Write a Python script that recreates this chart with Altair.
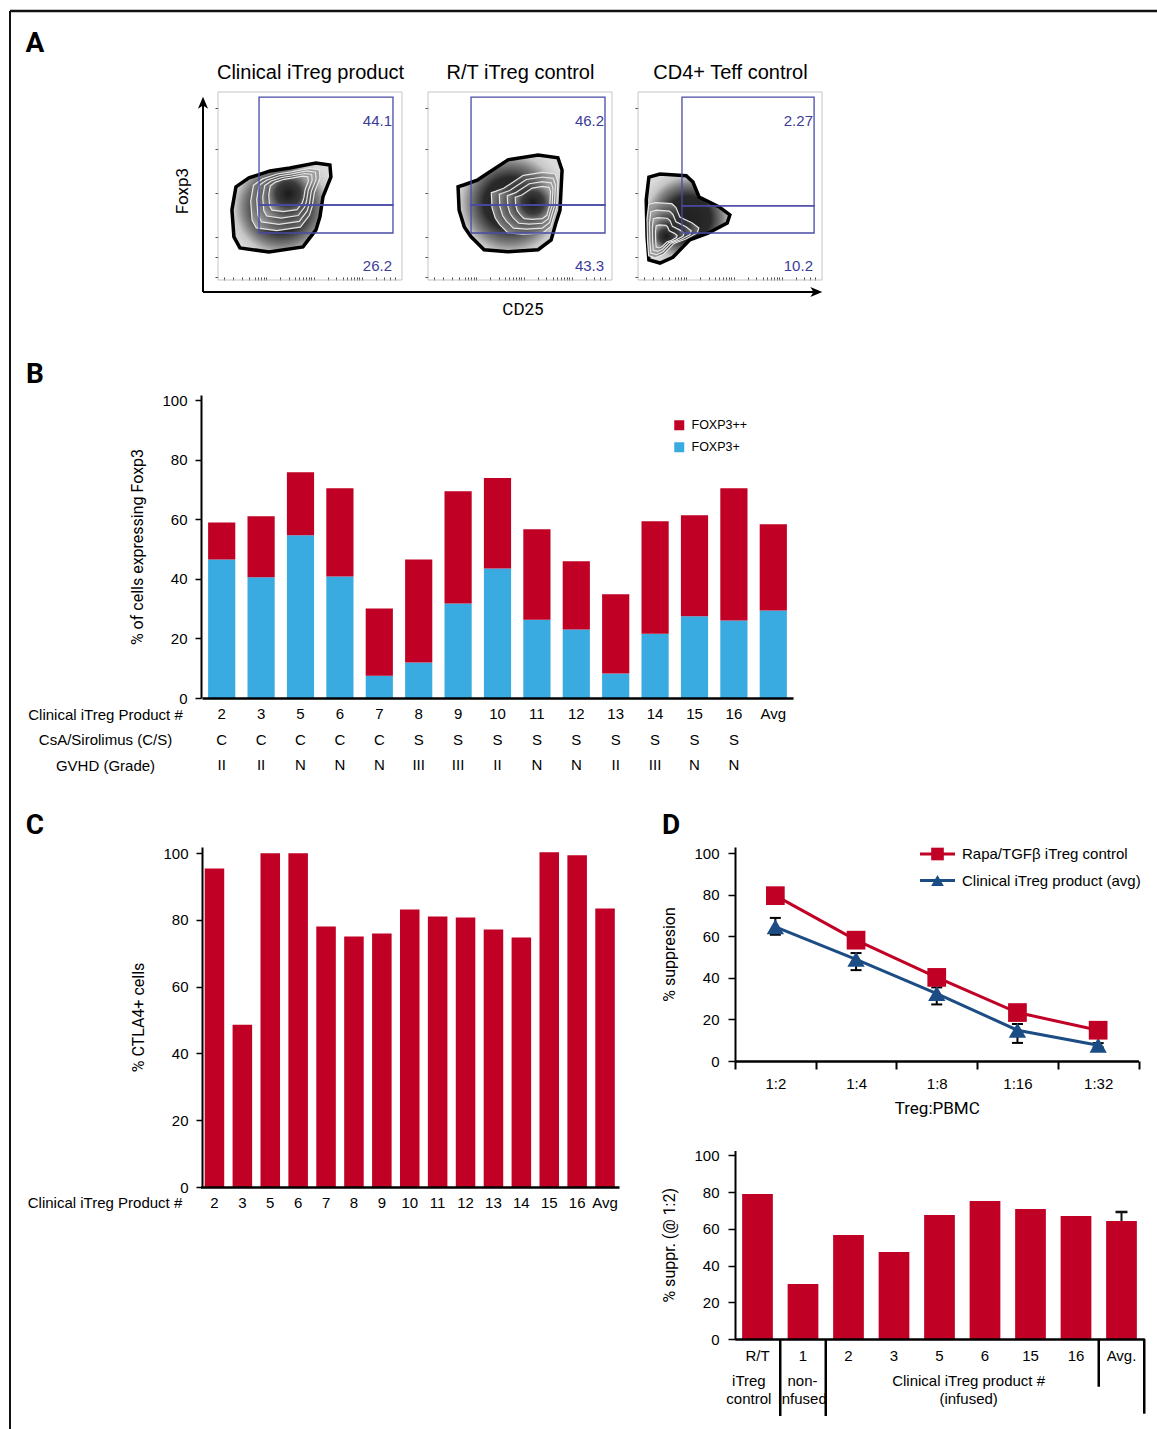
import altair as alt
import pandas as pd

W, H = 1157, 1429

# ---------------- Panel A : flow cytometry (frame units 0-100) ----------------
flow_titles = ["Clinical iTreg product", "R/T iTreg control", "CD4+ Teff control"]
flow_upper_pct = ["44.1", "46.2", "2.27"]
flow_lower_pct = ["26.2", "43.3", "10.2"]
gate_x = [[22.3, 95.1], [23.4, 96.2], [23.9, 95.7]]
gate_y_upper = [[39.9, 97.3], [39.9, 97.3], [39.4, 97.3]]
gate_y_lower = [[25.0, 39.9], [25.0, 39.9], [25.0, 39.4]]
pct_label_x = [94.6, 95.7, 95.1]
pct_label_y = [84.6, 7.4]
ring_cx = [[34.2, 36.4, 37.0, 37.6, 38.2],
           [44.6, 52.5, 54.0, 55.5, 57.0],
           [27.2, 19.0, 17.6, 16.4, 15.4]]
ring_cy = [[38.6, 42.8, 43.8, 44.8, 45.8],
           [40.7, 40.8, 40.9, 41.0, 41.0],
           [32.7, 26.5, 25.3, 24.2, 23.2]]
ring_scale = [[1.0, 0.70, 0.60, 0.50, 0.40],
              [1.0, 0.64, 0.54, 0.44, 0.34],
              [1.0, 0.62, 0.50, 0.38, 0.26]]
left_ticks = [1.8, 12.4, 23.0, 46.1, 69.5, 91.3]
bottom_ticks = [3, 8, 13, 17, 20, 22, 23.5, 24.8, 26, 33.8, 38.4, 41.7, 44.2, 46.2, 48, 49.5, 50.8,
                52, 59.8, 64.4, 67.7, 70.2, 72.2, 74, 75.5, 76.8, 78, 85.8, 90.4, 93.7, 96.2]

# ---------------- Panel B ----------------
products = ["2", "3", "5", "6", "7", "8", "9", "10", "11", "12", "13", "14", "15", "16", "Avg"]
foxp3_plus = [46.5, 40.5, 54.6, 40.8, 7.5, 11.9, 31.7, 43.5, 26.3, 23.0, 8.2, 21.6, 27.4, 26.0, 29.4]
foxp3_total = [58.9, 61.0, 75.8, 70.4, 30.0, 46.5, 69.4, 73.8, 56.6, 45.9, 34.8, 59.3, 61.3, 70.4, 58.3]
drug = ["C", "C", "C", "C", "C", "S", "S", "S", "S", "S", "S", "S", "S", "S", ""]
gvhd = ["II", "II", "N", "N", "N", "III", "III", "II", "N", "N", "II", "III", "N", "N", ""]
row_titles = ["Clinical iTreg Product #", "CsA/Sirolimus (C/S)", "GVHD (Grade)"]
series_b = ["FOXP3++", "FOXP3+"]

# ---------------- Panel C ----------------
ctla4 = [95.4, 48.6, 99.9, 99.9, 78.0, 75.0, 75.9, 83.1, 81.0, 80.7, 77.1, 74.7, 100.2, 99.3, 83.4]

# ---------------- Panel D (top) ----------------
ratios = ["1:2", "1:4", "1:8", "1:16", "1:32"]
rapa = [79.5, 58.1, 40.2, 23.3, 14.8]
clinical = [64.5, 48.9, 32.4, 14.8, 7.6]
clinical_err_lo = [3.8, 5.2, 5.2, 6.1, 1.0]
clinical_err_hi = [4.3, 3.0, 3.0, 3.0, 1.0]
legend_labels = ["Rapa/TGF\u03b2 iTreg control", "Clinical iTreg product (avg)"]

# ---------------- Panel D (bottom) ----------------
sup_cats = ["R/T", "1", "2", "3", "5", "6", "15", "16", "Avg."]
sup_vals = [79.0, 30.0, 56.7, 47.4, 67.6, 75.2, 70.8, 67.0, 64.3]
sup_avg_err = 4.9
sub_row1 = ["R/T", "1", "2", "3", "5", "6", "15", "16", "Avg."]
sub_row1_pos = [0.5, 1.5, 2.5, 3.5, 4.5, 5.5, 6.5, 7.5, 8.5]
sub_row2 = ["iTreg", "non-", "Clinical iTreg product #"]
sub_row3 = ["control", "infused", "(infused)"]
sub_row23_pos = [0.31, 1.49, 5.14]
sub_row_y = [0.221, 0.54, 0.78]
sep_pos = [1, 2, 8, 9]
sep_len = [1.0, 1.0, 0.62, 0.97]

# ---------------- styles ----------------
RED = "#c00025"
BLUE = "#39abe1"
NAVY = "#1b4c84"
GATE = "#4a4aa8"
NUM = "#3b3b98"
SANS = "Liberation Sans, Arial, Helvetica, sans-serif"
NARROW = "Roboto, Liberation Sans, sans-serif"

BLOB_PATHS = [
    "M-0.90,-0.41L-0.64,-0.59L-0.22,-0.73L0.18,-0.79L0.70,-0.89L0.98,-0.85L1.00,-0.61L0.84,-0.21"
    "L0.78,0.19L0.70,0.45L0.44,0.79L-0.24,0.89L-0.82,0.81L-0.94,0.59L-0.98,0.05Z",
    "M-0.54,-0.51L-0.04,-0.84L0.54,-0.93L0.92,-0.88L1.00,-0.64L0.96,0.13L0.88,0.38L0.79,0.70"
    "L0.54,0.89L-0.04,0.93L-0.50,0.89L-0.63,0.76L-0.75,0.64L-0.88,0.45L-0.98,0.13L-1.00,-0.32"
    "L-0.88,-0.36L-0.63,-0.45Z",
    "M-0.88,-0.93L-0.63,-1.00L-0.04,-0.96L0.11,-0.82L0.25,-0.48L0.70,-0.26L0.94,-0.08L0.88,0.10"
    "L0.45,0.33L0.04,0.48L-0.34,0.87L-0.63,1.00L-0.88,0.93L-0.92,0.42L-0.94,-0.42Z",
]
BLOB_SIZE = [10000, 10816, 7921]
GRAD_OUTER = {"gradient": "radial", "x1": 0.5, "y1": 0.5, "r1": 0, "x2": 0.5, "y2": 0.5, "r2": 0.56,
              "stops": [{"offset": 0, "color": "#202020"}, {"offset": 0.45, "color": "#2a2a2a"},
                        {"offset": 0.68, "color": "#7e7e7e"}, {"offset": 0.84, "color": "#c6c6c6"},
                        {"offset": 1, "color": "#dadada"}]}
GRAD_INNER = {"gradient": "radial", "x1": 0.5, "y1": 0.5, "r1": 0, "x2": 0.5, "y2": 0.5, "r2": 0.56,
              "stops": [{"offset": 0, "color": "#1a1a1a"}, {"offset": 0.55, "color": "#3a3a3a"},
                        {"offset": 1, "color": "#9c9c9c"}]}
UP_ARROW = "M0,-1L0.8,0.9L0,0.4L-0.8,0.9Z"
RIGHT_ARROW = "M1,0L-0.9,0.8L-0.4,0L-0.9,-0.8Z"

ONE = pd.DataFrame({"k": [0]})


def lin(domain, rng):
    return alt.Scale(domain=domain, range=rng, nice=False, zero=False)


leaves = []

# ---------------- figure border & panel letters ----------------
leaves.append(alt.Chart(ONE).mark_rule(color="#111", strokeWidth=2.5).encode(
    x=alt.value(10), x2=alt.value(W), y=alt.value(11)))
leaves.append(alt.Chart(ONE).mark_rule(color="#111", strokeWidth=2).encode(
    x=alt.value(10), y=alt.value(11), y2=alt.value(H)))
for letter, lx, ly in [("A", 35, 44), ("B", 35, 375), ("C", 35, 826), ("D", 671, 826)]:
    leaves.append(alt.Chart(ONE).mark_text(text=letter, font=NARROW, fontSize=28, fontWeight="bold",
                                           align="center", baseline="middle").encode(
        x=alt.value(lx), y=alt.value(ly)))

# ---------------- Panel A ----------------
FRAME_X = [218, 428, 638]
FRAME_W = 184
for i in range(3):
    xs = lin([0, 100], [FRAME_X[i], FRAME_X[i] + FRAME_W])
    ys = lin([0, 100], [280, 92])
    frame_df = pd.DataFrame({"x0": [0], "x1": [100], "y0": [0], "y1": [100]})
    leaves.append(alt.Chart(frame_df).mark_rect(fillOpacity=0, stroke="#c4c4c4", strokeWidth=1).encode(
        x=alt.X("x0:Q", scale=xs, axis=alt.Axis(orient="top", offset=-92, title=flow_titles[i], labels=False,
                                                 ticks=False, domain=False, titleFont=SANS, titleFontSize=20,
                                                 titlePadding=10, titleFontWeight="normal")),
        x2="x1:Q",
        y=alt.Y("y0:Q", scale=ys, axis=alt.Axis(orient="left", offset=-FRAME_X[i], values=left_ticks,
                                                 labels=False, domain=False, tickSize=3, tickColor="#444",
                                                 title=None)),
        y2="y1:Q"))
    ring_df = pd.DataFrame({"cx": ring_cx[i], "cy": ring_cy[i], "s": ring_scale[i]})
    ring_df["size"] = BLOB_SIZE[i] * ring_df["s"] ** 2
    enc = dict(x=alt.X("cx:Q", scale=xs, axis=None), y=alt.Y("cy:Q", scale=ys, axis=None),
               size=alt.Size("size:Q", scale=None, legend=None))
    leaves.append(alt.Chart(ring_df.iloc[:1]).mark_point(shape=BLOB_PATHS[i], filled=True, fill=GRAD_OUTER,
                                                         stroke="black", strokeWidth=3.5, opacity=1).encode(**enc))
    leaves.append(alt.Chart(ring_df.iloc[1:]).mark_point(shape=BLOB_PATHS[i], filled=True, fill=GRAD_INNER,
                                                         stroke="#e6e6e6", strokeWidth=1.2, opacity=1).encode(**enc))
    gate_df = pd.DataFrame({"x0": [gate_x[i][0]] * 2, "x1": [gate_x[i][1]] * 2,
                            "y0": [gate_y_upper[i][0], gate_y_lower[i][0]],
                            "y1": [gate_y_upper[i][1], gate_y_lower[i][1]]})
    leaves.append(alt.Chart(gate_df).mark_rect(fillOpacity=0, stroke=GATE, strokeWidth=1.3).encode(
        x=alt.X("x0:Q", scale=xs, axis=alt.Axis(orient="top", offset=-280, values=bottom_ticks, labels=False,
                                                 domain=False, tickSize=3, tickColor="#444", title=None)),
        x2="x1:Q", y=alt.Y("y0:Q", scale=ys, axis=None), y2="y1:Q"))
    num_df = pd.DataFrame({"x": [pct_label_x[i]] * 2, "y": pct_label_y,
                           "t": [flow_upper_pct[i], flow_lower_pct[i]]})
    leaves.append(alt.Chart(num_df).mark_text(align="right", baseline="middle", font=SANS, fontSize=15,
                                              color=NUM).encode(
        x=alt.X("x:Q", scale=xs, axis=None), y=alt.Y("y:Q", scale=ys, axis=None), text="t:N"))

# arrows + axis names of panel A
leaves.append(alt.Chart(ONE).mark_rule(color="black", strokeWidth=2).encode(
    x=alt.value(203), y=alt.value(292), y2=alt.value(104)))
leaves.append(alt.Chart(ONE).mark_rule(color="black", strokeWidth=2).encode(
    x=alt.value(203), x2=alt.value(815), y=alt.value(292)))
leaves.append(alt.Chart(ONE).mark_point(shape=UP_ARROW, filled=True, color="black", size=160, opacity=1).encode(
    x=alt.value(203), y=alt.value(103)))
leaves.append(alt.Chart(ONE).mark_point(shape=RIGHT_ARROW, filled=True, color="black", size=160, opacity=1).encode(
    x=alt.value(816), y=alt.value(292)))
leaves.append(alt.Chart(ONE).mark_text(text="Foxp3", angle=270, font=NARROW, fontSize=17,
                                       align="center", baseline="middle").encode(x=alt.value(183), y=alt.value(191)))
leaves.append(alt.Chart(ONE).mark_text(text="CD25", font=NARROW, fontSize=17, align="center",
                                       baseline="middle").encode(x=alt.value(523), y=alt.value(310)))

# ---------------- Panel B ----------------
xB = dict(domain=products, range=[202, 793], paddingInner=0.31, paddingOuter=0.155)
yB = lin([0, 101.7], [698, 395])
b_rows = []
for p, pl, tot in zip(products, foxp3_plus, foxp3_total):
    b_rows.append({"product": p, "series": "FOXP3+", "y0": 0, "y1": pl})
    b_rows.append({"product": p, "series": "FOXP3++", "y0": pl, "y1": tot})
leaves.append(alt.Chart(pd.DataFrame(b_rows)).mark_bar(opacity=1).encode(
    x=alt.X("product:N", scale=alt.Scale(type="band", **xB),
            axis=alt.Axis(orient="bottom", offset=-(H - 698), labels=False, ticks=False, title=None,
                          domainWidth=2.5, zindex=1)),
    y=alt.Y("y0:Q", scale=yB,
            axis=alt.Axis(orient="left", offset=-201, values=[0, 20, 40, 60, 80, 100], tickSize=6,
                          labelPadding=8, title="% of cells expressing Foxp3", titlePadding=16,
                          domainWidth=2, tickWidth=1.5, zindex=1)),
    y2="y1:Q",
    color=alt.Color("series:N", scale=alt.Scale(domain=series_b, range=[RED, BLUE]),
                    legend=alt.Legend(orient="none", legendX=673, legendY=419, title=None, symbolType="square",
                                      symbolSize=100, labelFontSize=12.5, labelFont=SANS, rowPadding=9,
                                      labelOffset=6, padding=0, symbolStrokeWidth=0))))
txt_rows = []
for p, d, g in zip(products, drug, gvhd):
    for rt, t in zip(row_titles, [p, d, g]):
        txt_rows.append({"product": p, "row": rt, "t": t})
leaves.append(alt.Chart(pd.DataFrame(txt_rows)).mark_text(font=SANS, fontSize=15, align="center",
                                                          baseline="middle").encode(
    x=alt.X("product:N", scale=alt.Scale(type="band", **xB), axis=None),
    y=alt.Y("row:N", scale=alt.Scale(type="point", domain=row_titles, range=[714, 765], padding=0),
            axis=alt.Axis(orient="left", offset=-105, labelAlign="center", labelBaseline="middle", domain=False,
                          ticks=False, tickSize=0, labelPadding=0, labelFontSize=15, title=None)),
    text="t:N"))

# ---------------- Panel C ----------------
xC = alt.Scale(type="band", domain=products, range=[200.5, 619], paddingInner=0.3, paddingOuter=0.15)
yC = lin([0, 101.8], [1187, 847])
leaves.append(alt.Chart(pd.DataFrame({"product": products, "v": ctla4})).mark_bar(color=RED, opacity=1).encode(
    x=alt.X("product:N", scale=xC,
            axis=alt.Axis(orient="bottom", offset=-(H - 1187), ticks=False, tickSize=0, labelPadding=8,
                          labelAngle=0, labelFontSize=15, title=None, domainWidth=2.5, zindex=1)),
    y=alt.Y("v:Q", scale=yC,
            axis=alt.Axis(orient="left", offset=-202, values=[0, 20, 40, 60, 80, 100], tickSize=6,
                          labelPadding=8, title="% CTLA4+ cells", titlePadding=16, domainWidth=2,
                          tickWidth=1.5, zindex=1))))
leaves.append(alt.Chart(ONE).mark_text(text="Clinical iTreg Product #", font=SANS, fontSize=15, align="center",
                                       baseline="middle").encode(x=alt.value(105), y=alt.value(1203)))

# ---------------- Panel D top ----------------
xD = dict(type="band", domain=ratios, range=[735, 1138.5], paddingInner=0, paddingOuter=0)
yD = lin([0, 102.9], [1061, 847])
d_df = pd.DataFrame({"ratio": ratios, "rapa": rapa, "clin": clinical})
d_df["lo"] = d_df["clin"] - pd.Series(clinical_err_lo)
d_df["hi"] = d_df["clin"] + pd.Series(clinical_err_hi)


def xd_enc(ax=None):
    return alt.X("ratio:N", scale=alt.Scale(**xD), bandPosition=0.5, axis=ax)


leaves.append(alt.Chart(d_df).mark_rule(color="black", strokeWidth=2).encode(
    x=xd_enc(alt.Axis(orient="bottom", offset=-(H - 1061), tickBand="extent", tickSize=8, tickWidth=2,
                      labelPadding=7, labelAngle=0, labelFontSize=15, title="Treg:PBMC", titleFontSize=17,
                      titlePadding=9, domainWidth=2.5, zindex=1)),
    y=alt.Y("lo:Q", scale=yD,
            axis=alt.Axis(orient="left", offset=-735, values=[0, 20, 40, 60, 80, 100], tickSize=7,
                          labelPadding=9, title="% suppresion", titlePadding=16, domainWidth=2,
                          tickWidth=1.5, zindex=1)),
    y2="hi:Q"))
caps = pd.concat([d_df[["ratio", "lo"]].rename(columns={"lo": "c"}),
                  d_df[["ratio", "hi"]].rename(columns={"hi": "c"})])
leaves.append(alt.Chart(caps).mark_tick(color="black", thickness=2, size=11, opacity=1).encode(
    x=xd_enc(), y=alt.Y("c:Q", scale=yD, axis=None)))
leaves.append(alt.Chart(d_df).mark_line(color=NAVY, strokeWidth=3).encode(
    x=xd_enc(), y=alt.Y("clin:Q", scale=yD, axis=None)))
leaves.append(alt.Chart(d_df).mark_line(color=RED, strokeWidth=3).encode(
    x=xd_enc(), y=alt.Y("rapa:Q", scale=yD, axis=None)))
leaves.append(alt.Chart(d_df).mark_point(shape="triangle-up", filled=True, color=NAVY, size=300,
                                         opacity=1).encode(
    x=xd_enc(), y=alt.Y("clin:Q", scale=yD, axis=None)))
leaves.append(alt.Chart(d_df).mark_point(shape="square", filled=True, color=RED, size=350, opacity=1).encode(
    x=xd_enc(), y=alt.Y("rapa:Q", scale=yD, axis=None)))

# legend of panel D (top)
lg_x = lin([0, 1], [920, 955])
lg_y = alt.Scale(type="point", domain=legend_labels, range=[854, 880.5], padding=0)
lg_color = alt.Scale(domain=legend_labels, range=[RED, NAVY])
lg_lines = pd.DataFrame({"label": [legend_labels[0]] * 2 + [legend_labels[1]] * 2, "lx": [0, 1, 0, 1]})
lg_pts = pd.DataFrame({"label": legend_labels, "lx": [0.5, 0.5], "tx": [1.2, 1.2]})
leaves.append(alt.Chart(lg_lines).mark_line(strokeWidth=3).encode(
    x=alt.X("lx:Q", scale=lg_x, axis=None), y=alt.Y("label:N", scale=lg_y, axis=None),
    color=alt.Color("label:N", scale=lg_color, legend=None)))
leaves.append(alt.Chart(lg_pts).mark_point(filled=True, size=160, opacity=1).encode(
    x=alt.X("lx:Q", scale=lg_x, axis=None), y=alt.Y("label:N", scale=lg_y, axis=None),
    color=alt.Color("label:N", scale=lg_color, legend=None),
    shape=alt.Shape("label:N", scale=alt.Scale(domain=legend_labels, range=["square", "triangle-up"]),
                    legend=None)))
leaves.append(alt.Chart(lg_pts).mark_text(font=SANS, fontSize=15, align="left", baseline="middle").encode(
    x=alt.X("tx:Q", scale=lg_x, axis=None), y=alt.Y("label:N", scale=lg_y, axis=None), text="label:N"))

# ---------------- Panel D bottom ----------------
xE = alt.Scale(type="band", domain=sup_cats, range=[734.75, 1144.25], paddingInner=0.325, paddingOuter=0.1625)
yE = lin([0, 102.7], [1339, 1150.5])
e_df = pd.DataFrame({"cat": sup_cats, "v": sup_vals})
leaves.append(alt.Chart(e_df).mark_bar(color=RED, opacity=1).encode(
    x=alt.X("cat:N", scale=xE, axis=alt.Axis(orient="bottom", offset=-(H - 1339), labels=False, ticks=False,
                                             title=None, domainWidth=2.5, zindex=1)),
    y=alt.Y("v:Q", scale=yE,
            axis=alt.Axis(orient="left", offset=-735, values=[0, 20, 40, 60, 80, 100], tickSize=7,
                          labelPadding=9, title="% suppr. (@ 1:2)", titlePadding=16, domainWidth=2,
                          tickWidth=1.5, zindex=1))))
avg_df = pd.DataFrame({"cat": [sup_cats[-1]], "v": [sup_vals[-1]], "hi": [sup_vals[-1] + sup_avg_err]})
leaves.append(alt.Chart(avg_df).mark_rule(color="#111", strokeWidth=2).encode(
    x=alt.X("cat:N", scale=xE, axis=None), y=alt.Y("v:Q", scale=yE, axis=None), y2="hi:Q"))
leaves.append(alt.Chart(avg_df).mark_tick(color="#111", thickness=2.5, size=12, opacity=1).encode(
    x=alt.X("cat:N", scale=xE, axis=None), y=alt.Y("hi:Q", scale=yE, axis=None)))

xI = lin([0, 9], [734.75, 1144.25])
yR = lin([0, 1], [1339, 1416])
sub_txt = pd.DataFrame(
    {"t": sub_row1 + sub_row2 + sub_row3,
     "x": sub_row1_pos + sub_row23_pos + sub_row23_pos,
     "y": [sub_row_y[0]] * len(sub_row1) + [sub_row_y[1]] * 3 + [sub_row_y[2]] * 3})
leaves.append(alt.Chart(sub_txt).mark_text(font=SANS, fontSize=15, align="center", baseline="middle").encode(
    x=alt.X("x:Q", scale=xI, axis=None), y=alt.Y("y:Q", scale=yR, axis=None), text="t:N"))
sep_df = pd.DataFrame({"x": sep_pos, "y0": [0] * len(sep_pos), "y1": sep_len})
leaves.append(alt.Chart(sep_df).mark_rule(color="black", strokeWidth=2.5).encode(
    x=alt.X("x:Q", scale=xI, axis=None), y=alt.Y("y0:Q", scale=yR, axis=None), y2="y1:Q"))

# ---------------- assemble ----------------
chart = (
    alt.layer(*leaves)
    .resolve_scale(x="independent", y="independent", color="independent", size="independent",
                   shape="independent")
    .resolve_axis(x="independent", y="independent")
    .resolve_legend(color="independent", size="independent", shape="independent")
    .properties(width=W, height=H, autosize=alt.AutoSizeParams(type="none"), padding=0)
    .configure_view(strokeWidth=0)
    .configure_axis(grid=False, domainColor="black", tickColor="black", labelColor="black", titleColor="black",
                    labelFont=SANS, titleFont=NARROW, titleFontWeight="normal", labelFontSize=15,
                    titleFontSize=16)
)
chart.save("out.html", embed_options={"renderer": "svg", "actions": False})
